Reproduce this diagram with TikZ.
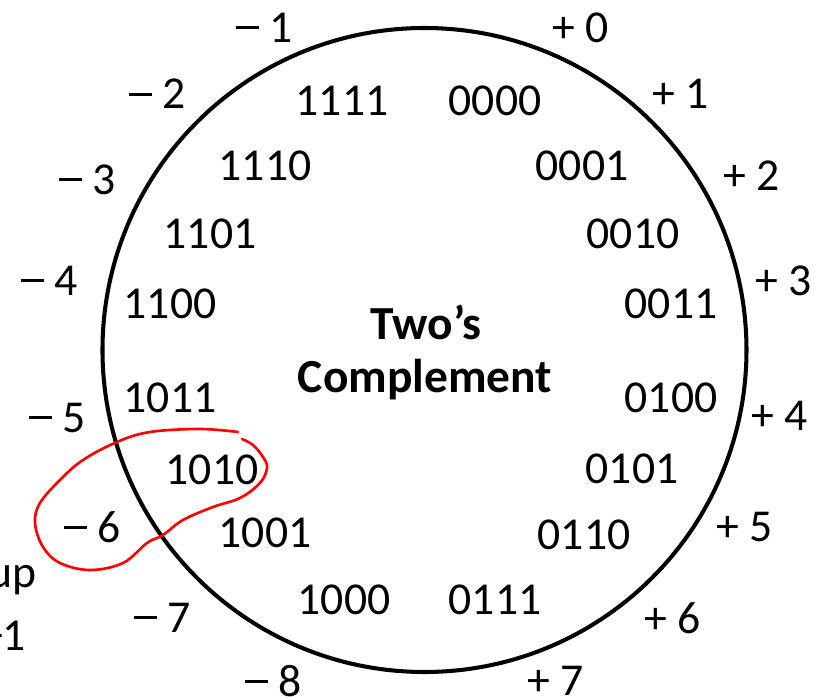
\documentclass[tikz,border=0pt]{standalone}
\usepackage{fontspec}
\setmainfont{Carlito}
\usepackage{tikz}
\usetikzlibrary{calc}
\usepackage{tkz-euclide}
\newcommand{\mns}{\rule[0.29em]{0.5em}{0.065em}}

\begin{document}
\begin{tikzpicture}[
    val/.style={font=\fontsize{26}{30}\selectfont},
    bits/.style={font=\fontsize{26}{30}\selectfont},
    title/.style={font=\fontsize{27}{31}\selectfont\bfseries}]
            \useasboundingbox (-8.49,-6.94) rectangle (7.81,7.0);
            \tkzDefPoints{0/0/O, 6.44/0/R}
            \tkzDrawCircle[draw=black, line width=2.3pt](O,R)
            % values outside the wheel
            \node[val] (p0) at (3.13,6.44) {+ 0};
            \node[val] (p1) at (5.13,5.12) {+ 1};
            \node[val] (p2) at (6.55,3.48) {+ 2};
            \node[val] (p3) at (7.19,1.38) {+ 3};
            \node[val] (p4) at (7.11,-1.32) {+ 4};
            \node[val] (p5) at (6.41,-3.54) {+ 5};
            \node[val] (p6) at (4.97,-5.36) {+ 6};
            \node[val] (p7) at (2.63,-6.62) {+ 7};
            \node[val] (m8) at (-3.03,-6.62) {\mns{} 8};
            \node[val] (m7) at (-5.25,-5.36) {\mns{} 7};
            \node[val] (m6) at (-6.65,-3.54) {\mns{} 6};
            \node[val] (m5) at (-7.35,-1.36) {\mns{} 5};
            \node[val] (m4) at (-7.51,1.38) {\mns{} 4};
            \node[val] (m3) at (-6.75,3.40) {\mns{} 3};
            \node[val] (m2) at (-5.35,5.12) {\mns{} 2};
            \node[val] (m1) at (-3.21,6.44) {\mns{} 1};
            % bit patterns inside
            \node[bits] (b0000) at (1.41,4.98) {0000};
            \node[bits] (b0001) at (3.15,3.68) {0001};
            \node[bits] (b0010) at (4.17,2.32) {0010};
            \node[bits] (b0011) at (4.93,0.92) {0011};
            \node[bits] (b0100) at (4.93,-0.96) {0100};
            \node[bits] (b0101) at (4.15,-2.38) {0101};
            \node[bits] (b0110) at (3.19,-3.70) {0110};
            \node[bits] (b0111) at (1.41,-5.0) {0111};
            \node[bits] (b1000) at (-1.61,-5.0) {1000};
            \node[bits] (b1001) at (-3.19,-3.66) {1001};
            \node[bits] (b1010) at (-4.25,-2.40) {1010};
            \node[bits] (b1011) at (-5.09,-0.96) {1011};
            \node[bits] (b1100) at (-5.09,0.92) {1100};
            \node[bits] (b1101) at (-4.29,2.32) {1101};
            \node[bits] (b1110) at (-3.19,3.68) {1110};
            \node[bits] (b1111) at (-1.65,4.98) {1111};
            \node[title] (two) at (0.03,0.56) {Two’s};
            \node[title] (compl) at (0.01,-0.60) {Complement};
            % cut off text at the left
            \node[val, anchor=base east, inner sep=0pt] (cutup) at (-7.76,-4.74) {up};
            \node[val, anchor=base east, inner sep=0pt] (cutone) at (-7.96,-6.0) {+1};
            % red loop
            \draw[red, line width=1.5pt, line cap=round] plot[smooth, tension=0.6] coordinates {
                (-3.73,-1.64) (-4.49,-1.58) (-5.49,-1.64) (-6.15,-1.84) (-6.83,-2.20)
                (-7.29,-2.60) (-7.69,-3.06) (-7.79,-3.46) (-7.63,-3.94) (-7.29,-4.26)
                (-6.69,-4.40) (-6.03,-4.26) (-5.55,-3.86) (-5.23,-3.70) (-4.83,-3.40)
                (-4.23,-3.14) (-3.69,-2.96) (-3.29,-2.66) (-3.15,-2.36) (-3.23,-2.14)
                (-3.43,-1.90) (-3.65,-1.78)};
        \end{tikzpicture}
\end{document}
